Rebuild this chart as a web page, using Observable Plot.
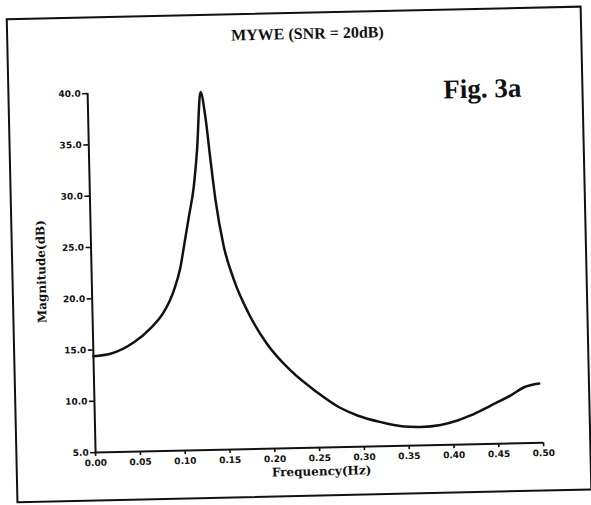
<!DOCTYPE html>
<html><head><meta charset="utf-8">
<script src="https://cdn.jsdelivr.net/npm/d3@7"></script>
<script src="https://cdn.jsdelivr.net/npm/@observablehq/plot@0.6"></script>
<style>
html,body{margin:0;padding:0;background:#fff;width:591px;height:505px;overflow:hidden;}
#page{position:absolute;left:0;top:0;width:591px;height:505px;transform:rotate(-1.27deg);transform-origin:295.5px 252.5px;}
#frame{position:absolute;left:11px;top:12px;width:576px;height:485px;border:2px solid #111;box-sizing:border-box;}
#chart{position:absolute;left:0;top:0;}
</style></head><body>
<div id="page"><div id="frame"></div><div id="chart"></div></div>
<script>
const freq = [0, 0.019, 0.0455, 0.064, 0.0795, 0.0913, 0.0993, 0.1035, 0.1098, 0.116, 0.1206, 0.126,
  0.1308, 0.1354, 0.14, 0.148, 0.1585, 0.1738, 0.194, 0.2195, 0.2486, 0.2728, 0.293, 0.3188, 0.3447,
  0.3634, 0.3857, 0.4045, 0.4192, 0.442, 0.4646, 0.4797, 0.4965];
const magnitude = [14.4, 14.6, 15.66, 16.97, 18.53, 20.62, 22.89, 24.82, 27.74, 30.64, 34.2, 39.9,
  37.45, 33.26, 29.36, 24.86, 21.56, 18.3, 15.21, 12.58, 10.4, 8.89, 8.05, 7.35, 6.87,
  6.8, 6.95, 7.34, 7.81, 8.73, 9.68, 10.44, 10.77];
const xTicks = [0, 0.05, 0.1, 0.15, 0.2, 0.25, 0.3, 0.35, 0.4, 0.45, 0.5];
const yTicks = [5, 10, 15, 20, 25, 30, 35, 40];
const titleText = "MYWE (SNR = 20dB)";
const xLabel = "Frequency(Hz)";
const yLabel = "Magnitude(dB)";
const figLabel = "Fig. 3a";

const data = freq.map((f, i) => ({f, m: magnitude[i]}));
const ink = "#111";
const tickFont = {fontSize: 9, fontWeight: "bold", fontFamily: "DejaVu Sans"};

const plot = Plot.plot({
  width: 591, height: 505,
  marginLeft: 90.7, marginRight: 52.2, marginTop: 88.5, marginBottom: 57.4,
  x: {domain: [0, 0.5]},
  y: {domain: [5, 40]},
  style: {background: "transparent", color: ink, overflow: "visible"},
  marks: [
    Plot.axisY({ticks: yTicks, tickFormat: d3.format(".1f"), tickSize: 5, tickPadding: 2, strokeWidth: 1.6, label: null, ...tickFont}),
    Plot.axisX({ticks: xTicks, tickFormat: d3.format(".2f"), tickSize: 4, tickPadding: 3, strokeWidth: 1.6, label: null, ...tickFont}),
    Plot.ruleX([0], {stroke: ink, strokeWidth: 2}),
    Plot.ruleY([5], {stroke: ink, strokeWidth: 2}),
    Plot.line(data, {x: "f", y: "m", curve: "monotone-x", stroke: ink, strokeWidth: 2.5}),
    Plot.text([titleText], {text: d => d, frameAnchor: "top", dy: -55, dx: -3, lineAnchor: "middle",
      fontSize: 16, fontWeight: "bold", fontFamily: "Liberation Serif", fill: ink}),
    Plot.text([yLabel], {text: d => d, frameAnchor: "left", dx: -50, dy: -2.5, rotate: -90,
      textAnchor: "middle", lineAnchor: "middle", fontSize: 12, fontWeight: "bold", fontFamily: "DejaVu Serif", fill: ink}),
    Plot.text([xLabel], {text: d => d, frameAnchor: "bottom", dy: 24, dx: 1.5, lineAnchor: "middle",
      fontSize: 12, fontWeight: "bold", fontFamily: "DejaVu Serif", fill: ink}),
    Plot.text([figLabel], {text: d => d, frameAnchor: "top-right", dx: -92.4, dy: 12.7,
      textAnchor: "start", lineAnchor: "bottom", fontSize: 27, fontWeight: "bold", fontFamily: "Liberation Serif", fill: ink})
  ]
});
document.getElementById("chart").appendChild(plot);
</script>
</body></html>
